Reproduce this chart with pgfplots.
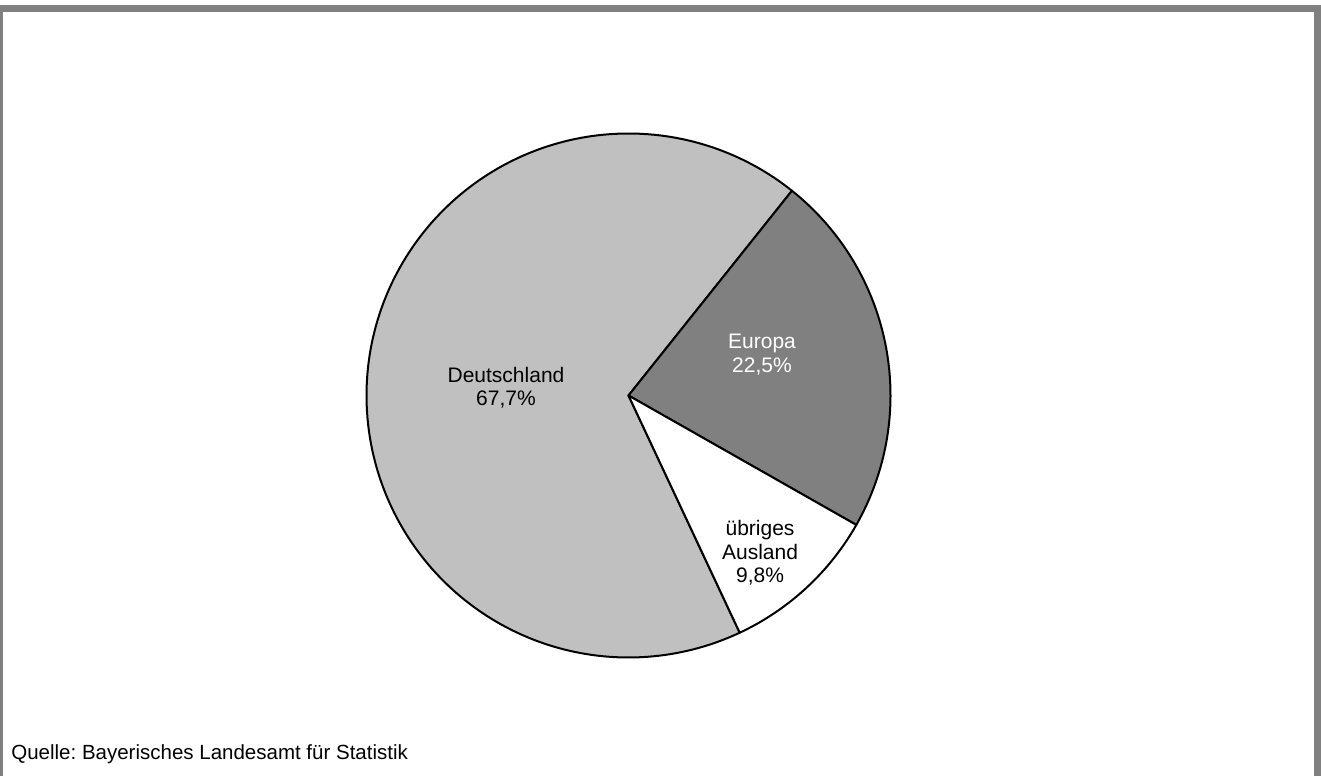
\documentclass[border=0pt]{standalone}
\usepackage{pgfplots}
\pgfplotsset{compat=1.18}
\usepackage{pgfplotstable}
\usepackage{fontspec}
\setmainfont{Liberation Sans}
\frenchspacing
\definecolor{deu}{HTML}{C0C0C0}
\definecolor{eur}{HTML}{808080}
\definecolor{frame}{HTML}{808080}
\pgfplotstableread{
label value
Deutschland 67.7
Europa 22.5
Ausland 9.8
}\piedata
\begin{document}
\begin{tikzpicture}
\pgfplotstablegetelem{0}{value}\of\piedata \let\vDeu\pgfplotsretval
\pgfplotstablegetelem{1}{value}\of\piedata \let\vEur\pgfplotsretval
\pgfplotstablegetelem{2}{value}\of\piedata \let\vAus\pgfplotsretval
\pgfmathsetmacro{\aS}{51.4}
\pgfmathsetmacro{\aE}{\aS-3.6*\vEur}
\pgfmathsetmacro{\aA}{\aE-3.6*\vAus}
\pgfmathsetmacro{\aD}{\aA-3.6*\vDeu}
\begin{axis}[
  anchor=origin, at={(0,0)},
  x=0.5pt, y=0.5pt,
  xmin=0, xmax=1321, ymin=0, ymax=776,
  hide axis, clip=false,
]
\addplot[fill=deu, draw=black, line width=1pt, line join=round, domain=\aD:\aA, samples=200, variable=\t]
  ({628.5+262*cos(\t)},{380.5+262*sin(\t)}) -- (axis cs:628.5,380.5) -- cycle;
\addplot[fill=eur, draw=black, line width=1pt, line join=round, domain=\aE:\aS, samples=100, variable=\t]
  ({628.5+262*cos(\t)},{380.5+262*sin(\t)}) -- (axis cs:628.5,380.5) -- cycle;
\addplot[fill=white, draw=black, line width=1pt, line join=round, domain=\aA:\aE, samples=60, variable=\t]
  ({628.5+262*cos(\t)},{380.5+262*sin(\t)}) -- (axis cs:628.5,380.5) -- cycle;
\node[align=center, font=\fontsize{10.5}{11.75}\selectfont] at (axis cs:506,388.5) {Deutschland\\67,7\%};
\node[align=center, font=\fontsize{10.5}{11.75}\selectfont, text=white] at (axis cs:762,421.5) {Europa\\22,5\%};
\node[align=center, font=\fontsize{10.5}{11.75}\selectfont] at (axis cs:760,223) {übriges\\Ausland\\9,8\%};
\node[anchor=west, font=\fontsize{10.25}{11.75}\selectfont, inner sep=0pt] at (axis cs:11,22) {Quelle: Bayerisches Landesamt für Statistik};
\end{axis}
\fill[frame] (0,382pt) rectangle (668pt,385.5pt);
\fill[frame] (0,0) rectangle (1.5pt,385.5pt);
\fill[frame] (657pt,0) rectangle (668pt,385.5pt);
\pgfresetboundingbox
\useasboundingbox (0,0) rectangle (660.5pt,388pt);
\end{tikzpicture}
\end{document}
